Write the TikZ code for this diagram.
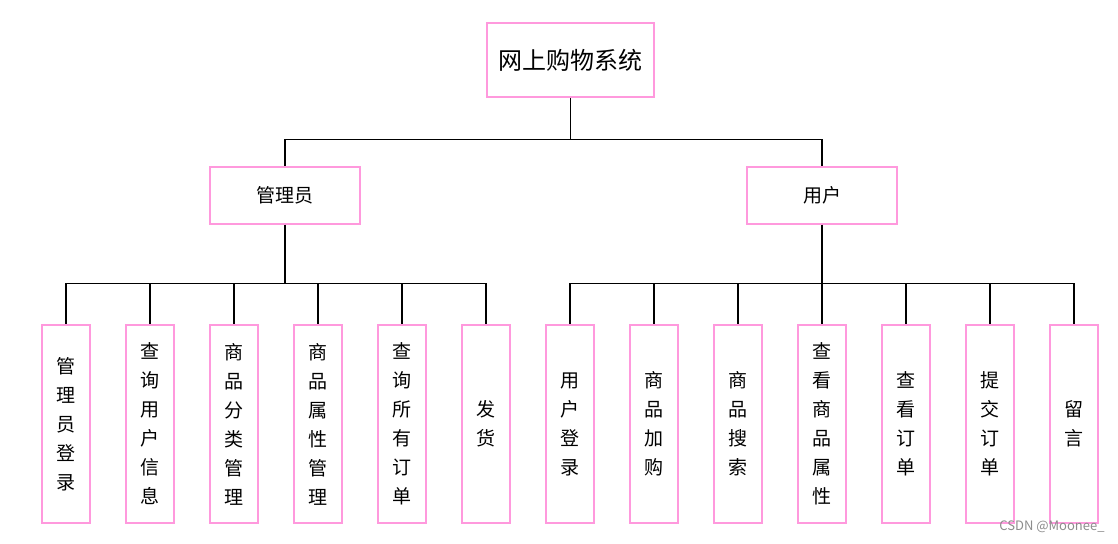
\documentclass[tikz,border=0pt]{standalone}
\usepackage{fontspec}
\setmainfont{Noto Sans CJK SC}
\definecolor{boxpink}{HTML}{FF99DD}
\definecolor{marktext}{HTML}{8C8C8C}
\tikzset{
  box/.style={draw=boxpink,line width=1.3pt,fill=white,inner sep=0pt},
  leaf/.style={box,minimum width=48pt,minimum height=198pt,align=center,
    font=\fontsize{19}{29}\selectfont},
  wire/.style={line width=1.4pt}
}

\begin{document}
\begin{tikzpicture}[x=1pt,y=-1pt]
            \useasboundingbox (0,0) rectangle (1118,543);

            \node (node top) at(570.5,60) [box,minimum width=167pt,minimum height=74pt,font=\fontsize{24}{28}\selectfont] {网上购物系统};
            \node (node admin) at(285,195.5) [box,minimum width=150pt,minimum height=57pt,font=\fontsize{19}{24}\selectfont] {管理员};
            \node (node user) at(822,195.5) [box,minimum width=150pt,minimum height=57pt,font=\fontsize{19}{24}\selectfont] {用户};

            \node (node a1) at(66,424) [leaf] {管\\理\\员\\登\\录};
            \node (node a2) at(150,424) [leaf] {查\\询\\用\\户\\信\\息};
            \node (node a3) at(234,424) [leaf] {商\\品\\分\\类\\管\\理};
            \node (node a4) at(318,424) [leaf] {商\\品\\属\\性\\管\\理};
            \node (node a5) at(402,424) [leaf] {查\\询\\所\\有\\订\\单};
            \node (node a6) at(486,424) [leaf] {发\\货};

            \node (node u1) at(570,424) [leaf] {用\\户\\登\\录};
            \node (node u2) at(654,424) [leaf] {商\\品\\加\\购};
            \node (node u3) at(738,424) [leaf] {商\\品\\搜\\索};
            \node (node u4) at(822,424) [leaf] {查\\看\\商\\品\\属\\性};
            \node (node u5) at(906,424) [leaf] {查\\看\\订\\单};
            \node (node u6) at(990,424) [leaf] {提\\交\\订\\单};
            \node (node u7) at(1074,424) [leaf] {留\\言};

            \node (node mark) at(1052,527) [text=marktext,font=\fontsize{13}{15}\selectfont,inner sep=0pt] {CSDN @Moonee\_};

            \draw[wire] (node top.south) -- ++(0,42) coordinate (bus top);
            \draw[wire] (bus top) -| (node admin.north);
            \draw[wire] (bus top) -| (node user.north);

            \draw[line width=2pt] (node admin.south) -- ++(0,59) coordinate (bus admin);
            \draw[line width=2pt] (node user.south) -- ++(0,59) coordinate (bus user);
            \foreach \n in {a1,a2,a3,a4,a5,a6}
            		\draw[wire] (bus admin) -| (node \n.north);
            \foreach \n in {u1,u2,u3,u4,u5,u6,u7}
            		\draw[wire] (bus user) -| (node \n.north);
\end{tikzpicture}
\end{document}
